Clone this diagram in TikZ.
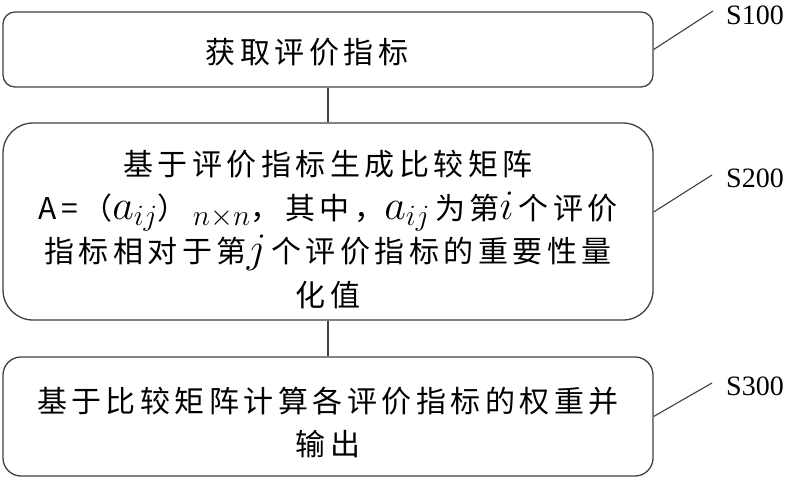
\RequirePackage{fix-cm}
\documentclass[tikz,border=0pt]{standalone}
\usepackage{fontspec}
\newfontfamily\cjk[LetterSpace=15]{Noto Sans CJK SC}
\newfontfamily\labfont{Liberation Serif}
\usetikzlibrary{calc}
\definecolor{linec}{HTML}{404040}
\newcommand{\mth}[1]{{\fontsize{30}{43.5}\selectfont\scalebox{1.4}{$#1$}}}
\tikzset{
  stepbox/.style={draw=linec, line width=1.3pt, minimum width=650pt, inner sep=0pt},
  steptext/.style={align=center, inner sep=0pt, font=\cjk\fontsize{30}{43.5}\selectfont, text=black},
  leader/.style={draw=linec, line width=1.1pt},
  steplabel/.style={anchor=west, inner sep=0pt, font=\labfont\fontsize{28}{30}\selectfont},
  link/.style={draw=linec, line width=1.1pt}
}
\begin{document}
\begin{tikzpicture}[x=1pt,y=-1pt]
\useasboundingbox (0,0) rectangle (793,480);
\node[stepbox, rounded corners=12pt, minimum height=75pt] (b1) at (328,49.5) {};
\node[stepbox, rounded corners=30pt, minimum height=197pt] (b2) at (328,221.5) {};
\node[stepbox, rounded corners=18pt, minimum height=119pt] (b3) at (328,416.5) {};
\node[steptext] (t1) at ($(b1.center)+(-21,2.5)$) {获取评价指标};
\node[steptext] (t2) at ($(b2.center)+(0,8)$) {基于评价指标生成比较矩阵\\
   A=（\mth{a_{ij}}）\,\mth{{}_{n\times n}}，其中，\mth{a_{ij}}\,为第\mth{i}\,个评价\\
   指标相对于第\mth{j}\,个评价指标的重要性量\\
   化值};
\node[steptext] (t3) at ($(b3.center)+(0,6)$) {基于比较矩阵计算各评价指标的权重并\\输出};
\draw[link] (b1.south) -- (b2.north);
\draw[link] (b2.south) -- (b3.north);
\coordinate (l1) at (713,11);
\coordinate (l2) at (712,175);
\coordinate (l3) at (712,383);
\draw[leader] (b1.east) -- (l1);
\draw[leader] ($(b2.east)+(0,-9.5)$) -- (l2);
\draw[leader] (b3.east) -- (l3);
\node[steplabel] (s1) at (726,15) {S100};
\node[steplabel] (s2) at (726,178) {S200};
\node[steplabel] (s3) at (726,386) {S300};
\end{tikzpicture}
\end{document}
